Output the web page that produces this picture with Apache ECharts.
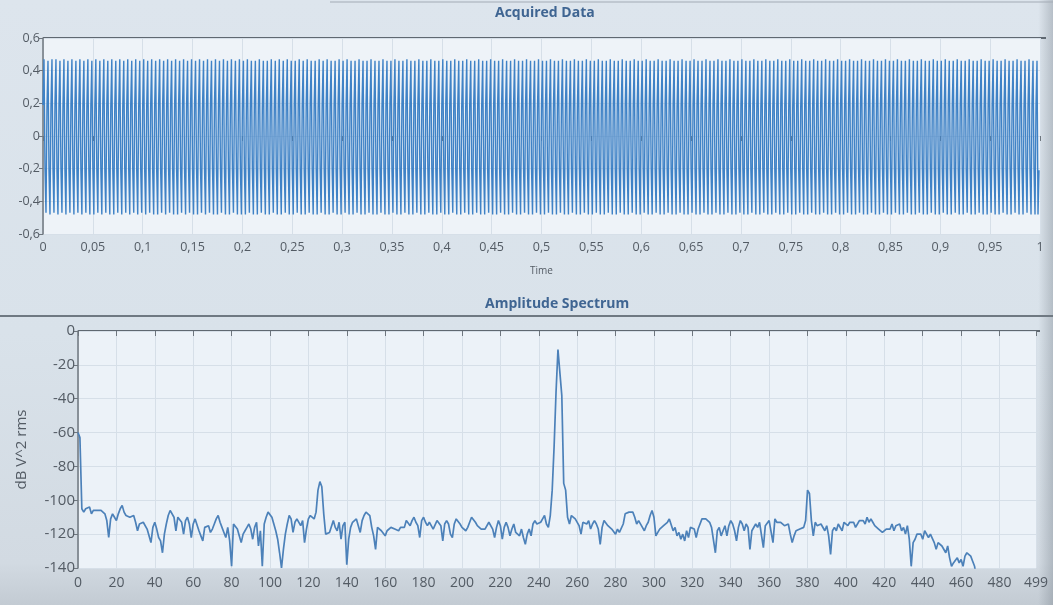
<!DOCTYPE html>
<html>
<head>
<meta charset="utf-8">
<title>Acquired Data / Amplitude Spectrum</title>
<script src="https://cdn.jsdelivr.net/npm/echarts@6/dist/echarts.min.js"></script>
<style>
  html, body { margin: 0; padding: 0; }
  #chart {
    width: 1053px; height: 605px;
    background:
      linear-gradient(to right, rgba(0,0,0,0) 98.6%, rgba(110,120,130,0.35) 100%),
      linear-gradient(to bottom, #dde5ed 0%, #d9e2ea 55%, #d2dae2 93%, #c3cbd3 100%);
  }
</style>
</head>
<body>
<div id="chart"></div>
<script>
// Sample clock of the acquisition (1 kS/s, 1000 samples)
const sampleRate = 1000;

// Acquired waveform, in hundredths of a volt
const acquiredSamples_cV = [
  19,47,-20,-47,18,46,-21,-48,19,47,-20,-47,20,47,-21,-48,19,46,-20,-47,
  18,47,-21,-48,19,46,-20,-47,19,47,-21,-48,18,46,-20,-47,20,47,-21,-48,
  19,46,-20,-47,18,47,-21,-48,19,46,-20,-48,19,47,-21,-47,18,46,-20,-48,
  20,47,-21,-47,19,46,-20,-48,18,47,-21,-48,19,46,-20,-47,19,47,-21,-48,
  18,46,-20,-47,19,47,-21,-48,20,46,-20,-47,19,47,-21,-48,18,46,-20,-47,
  19,47,-21,-48,18,46,-20,-47,19,47,-21,-48,19,46,-20,-48,20,47,-21,-47,
  19,46,-20,-48,18,47,-21,-47,19,46,-20,-48,18,47,-21,-48,19,46,-20,-47,
  20,47,-21,-48,19,46,-20,-47,18,47,-21,-48,19,46,-20,-48,19,47,-21,-47,
  18,46,-20,-48,19,47,-21,-47,19,46,-20,-48,20,47,-21,-48,18,46,-20,-47,
  19,47,-21,-48,18,46,-20,-48,19,47,-21,-47,19,46,-20,-48,18,47,-21,-48,
  19,46,-21,-48,18,47,-20,-47,19,46,-21,-48,20,46,-20,-48,19,47,-21,-47,
  18,46,-20,-48,19,46,-21,-48,19,47,-20,-47,18,46,-21,-48,19,47,-20,-48,
  20,46,-21,-47,19,47,-20,-48,18,46,-21,-48,19,46,-20,-47,19,47,-21,-48,
  18,46,-21,-48,19,47,-20,-47,20,46,-21,-48,19,46,-20,-48,18,47,-21,-47,
  19,46,-20,-48,18,47,-21,-48,19,46,-20,-47,19,46,-21,-48,20,47,-20,-48,
  19,46,-21,-47,18,47,-20,-48,19,46,-21,-48,18,46,-20,-47,19,47,-21,-48,
  20,46,-20,-48,19,46,-21,-47,18,47,-20,-48,19,46,-21,-48,19,46,-20,-47,
  18,47,-21,-48,19,46,-20,-48,20,46,-21,-47,19,47,-20,-48,18,46,-21,-48,
  19,46,-20,-47,19,47,-21,-48,18,46,-20,-48,19,46,-21,-47,20,47,-20,-48,
  19,46,-21,-48,18,46,-20,-47,19,47,-21,-48,19,46,-20,-48,18,46,-21,-47,
  19,47,-20,-48,20,46,-21,-48,19,46,-20,-47,18,47,-21,-48,19,46,-20,-48,
  19,46,-21,-47,18,47,-20,-48,19,46,-21,-48,20,46,-20,-47,19,47,-21,-48,
  18,46,-20,-48,19,46,-21,-47,19,47,-20,-48,18,46,-21,-48,19,46,-20,-47,
  20,47,-21,-48,19,46,-20,-48,18,46,-21,-47,19,47,-20,-48,19,46,-21,-48,
  18,46,-20,-47,19,47,-21,-48,20,46,-20,-48,19,46,-21,-47,18,47,-20,-48,
  19,46,-21,-48,19,46,-20,-47,18,47,-21,-48,19,46,-20,-48,20,46,-21,-47,
  19,47,-20,-48,18,46,-21,-48,19,46,-20,-47,19,47,-21,-48,18,46,-20,-48,
  19,46,-21,-47,20,47,-20,-48,19,46,-21,-48,18,46,-20,-47,19,47,-21,-48,
  19,46,-20,-48,18,46,-21,-47,19,47,-20,-48,20,46,-21,-48,19,46,-20,-47,
  18,47,-21,-48,19,46,-20,-48,19,46,-21,-47,18,47,-20,-48,19,46,-21,-48,
  20,46,-20,-47,19,47,-21,-48,18,46,-20,-48,19,46,-21,-47,19,47,-20,-48,
  18,46,-21,-48,19,46,-20,-47,20,47,-21,-48,19,46,-20,-48,18,46,-21,-47,
  19,47,-20,-48,19,46,-21,-48,18,46,-20,-47,19,47,-21,-48,20,46,-20,-48,
  19,46,-21,-47,18,47,-20,-48,19,46,-21,-48,19,46,-20,-47,18,47,-21,-48,
  19,46,-20,-48,20,46,-21,-47,19,47,-20,-48,18,46,-21,-48,19,46,-20,-47,
  19,47,-21,-48,18,46,-20,-48,19,46,-21,-47,20,47,-20,-48,19,46,-21,-48,
  18,46,-20,-47,19,47,-21,-48,19,46,-20,-48,18,46,-21,-47,19,47,-20,-48,
  20,46,-21,-48,19,46,-20,-47,18,47,-21,-48,19,46,-20,-48,19,46,-21,-47,
  18,47,-20,-48,19,46,-21,-48,20,46,-20,-47,19,47,-21,-48,18,46,-20,-48,
  19,46,-21,-47,19,47,-20,-48,18,46,-21,-48,19,46,-20,-47,20,47,-21,-48,
  19,46,-20,-48,18,46,-21,-47,19,47,-20,-48,19,46,-21,-48,18,46,-20,-47,
  19,47,-21,-48,20,46,-20,-48,19,46,-21,-47,18,47,-20,-48,19,46,-21,-48,
  19,46,-20,-47,18,47,-21,-48,19,46,-20,-48,20,46,-21,-47,19,47,-20,-48,
  18,46,-21,-48,19,46,-20,-47,19,47,-21,-48,18,46,-20,-48,19,46,-21,-47,
  20,47,-20,-48,19,46,-21,-48,18,46,-20,-47,19,47,-21,-48,19,46,-20,-48,
  18,46,-21,-47,19,47,-20,-48,20,46,-21,-48,19,46,-20,-47,18,47,-21,-48,
  19,46,-20,-48,19,46,-21,-47,18,47,-20,-48,19,46,-21,-48,20,46,-20,-47,
  19,47,-21,-48,18,46,-20,-48,19,46,-21,-47,19,47,-20,-48,18,46,-21,-48,
  19,46,-20,-47,20,47,-21,-48,19,46,-20,-48,18,46,-21,-47,19,47,-20,-48,
  19,46,-21,-48,18,46,-20,-47,19,47,-21,-48,20,46,-20,-48,19,46,-48,-21
];

// Amplitude spectrum, dB V^2 rms, one value per 1 Hz bin (0 .. 499 Hz)
const spectrumDb = [
  -60,-63,-105,-107,-105,-106,-104,-108,-106,-107,-106,-107,-106,-107,-108,-112,-122,-111,-108,-110,
  -112,-108,-105,-103,-107,-109,-108,-110,-111,-109,-113,-118,-114,-115,-113,-112,-117,-121,-125,-116,
  -113,-117,-122,-124,-131,-120,-114,-109,-106,-107,-110,-118,-110,-109,-113,-120,-112,-110,-114,-122,
  -114,-111,-112,-118,-121,-124,-116,-117,-115,-119,-117,-114,-111,-109,-113,-116,-119,-122,-116,-124,
  -139,-114,-113,-117,-121,-125,-120,-118,-116,-114,-117,-123,-116,-113,-127,-118,-139,-114,-110,-107,
  -106,-110,-114,-118,-123,-131,-140,-129,-120,-114,-109,-111,-119,-113,-111,-112,-115,-112,-125,-117,
  -111,-109,-108,-111,-107,-94,-89,-92,-108,-120,-120,-119,-118,-112,-116,-118,-113,-123,-115,-113,
  -138,-123,-116,-113,-112,-111,-112,-119,-112,-109,-107,-106,-109,-116,-121,-129,-116,-117,-118,-119,
  -121,-118,-117,-116,-115,-117,-116,-118,-116,-117,-116,-112,-111,-115,-112,-110,-113,-115,-122,-112,
  -110,-113,-115,-113,-115,-117,-116,-112,-111,-115,-124,-114,-112,-114,-120,-122,-114,-111,-110,-114,
  -116,-117,-118,-116,-113,-110,-109,-113,-115,-116,-117,-116,-117,-116,-113,-114,-117,-122,-116,-112,
  -115,-123,-116,-113,-116,-121,-117,-114,-119,-118,-121,-117,-122,-126,-120,-117,-121,-114,-112,-114,
  -113,-113,-111,-109,-114,-116,-109,-94,-68,-36,-11,-11,-38,-90,-94,-110,-114,-109,-108,-111,
  -112,-115,-120,-113,-112,-114,-112,-117,-114,-112,-114,-117,-126,-116,-112,-113,-115,-116,-117,-116,
  -120,-117,-119,-120,-114,-108,-107,-107,-108,-107,-110,-114,-112,-113,-116,-118,-115,-113,-109,-106,
  -110,-121,-119,-117,-116,-115,-115,-113,-111,-110,-118,-116,-121,-119,-123,-120,-124,-118,-122,-116,
  -115,-117,-122,-117,-114,-111,-110,-111,-112,-113,-116,-115,-131,-118,-116,-121,-118,-115,-121,-115,
  -112,-114,-118,-124,-116,-112,-114,-118,-114,-116,-129,-118,-117,-114,-116,-113,-114,-128,-115,-114,
  -112,-111,-125,-111,-113,-113,-113,-113,-115,-116,-114,-120,-125,-121,-118,-119,-117,-118,-116,-112,
  -94,-96,-112,-121,-113,-115,-116,-114,-115,-118,-115,-121,-132,-118,-116,-118,-114,-113,-118,-113,
  -112,-115,-113,-114,-113,-116,-114,-112,-113,-112,-114,-110,-113,-111,-113,-115,-116,-117,-118,-119,
  -118,-117,-116,-117,-114,-118,-115,-116,-114,-118,-116,-120,-115,-123,-139,-125,-123,-120,-121,-120,
  -123,-118,-117,-122,-120,-121,-125,-129,-125,-124,-127,-126,-131,-127,-134,-139,-137,-136,-134,-137,
  -135,-139,-133,-131,-131,-133,-136,-139,-146,-149,-152,-150,-155,-153,-158,-156,-160,-157,-161,-159,
  -163,-160,-162,-158,-164,-161,-165,-162,-163,-166,-164,-167,-165,-168,-166,-169,-167,-170,-168,-171
];

// Axis ranges and tick steps
const timeRange = [0, 1];
const timeTickStep = 0.05;
const voltRange = [-0.6, 0.6];
const voltTickStep = 0.2;
const freqRange = [0, 499];
const freqTickStep = 20;
const dbRange = [-140, 0];
const dbTickStep = 20;

const waveform = acquiredSamples_cV.map((v, i) => [i / sampleRate, v / 100]);
const spectrum = spectrumDb.map((v, i) => [i, v]);

const FONT = '"Open Sans", "Noto Sans", sans-serif';
const LABEL = '#535b64';
const TITLE = '#3f6592';
const AXIS = '#6e767e';
const GRIDLINE = '#d6dfe8';

const commaDecimal = (v, digits) => {
  const s = String(+(+v).toFixed(digits));
  return s.replace('.', ',');
};

const chart = echarts.init(document.getElementById('chart'), null, { renderer: 'canvas' });

chart.setOption({
  animation: false,
  backgroundColor: 'transparent',
  title: [
    {
      text: 'Acquired Data', left: 490, top: 1,
      textStyle: { fontFamily: FONT, fontSize: 14, fontWeight: 'bold', color: TITLE }
    },
    {
      text: 'Amplitude Spectrum', left: 480, top: 292,
      textStyle: { fontFamily: FONT, fontSize: 14, fontWeight: 'bold', color: TITLE }
    }
  ],
  graphic: [
    { type: 'line', shape: { x1: 330, y1: 2, x2: 1053, y2: 2 }, style: { stroke: '#a3acb5', lineWidth: 1.2 }, silent: true },
    { type: 'line', shape: { x1: 0, y1: 316, x2: 1053, y2: 316 }, style: { stroke: '#6f7982', lineWidth: 2 }, silent: true },
    { type: 'line', shape: { x1: 43, y1: 38, x2: 1046, y2: 38 }, style: { stroke: '#5f6871', lineWidth: 2 }, silent: true },
    { type: 'line', shape: { x1: 78, y1: 331, x2: 1040, y2: 331 }, style: { stroke: '#5f6871', lineWidth: 2 }, silent: true }
  ],
  grid: [
    { left: 43, top: 38, width: 997, height: 196, show: true, backgroundColor: '#eef3f8', borderWidth: 0 },
    { left: 78, top: 331, width: 958, height: 237, show: true, backgroundColor: '#ecf2f8', borderWidth: 0 }
  ],
  xAxis: [
    {
      gridIndex: 0, type: 'value', min: timeRange[0], max: timeRange[1], interval: timeTickStep,
      name: 'Time', nameLocation: 'middle', nameGap: 32,
      nameTextStyle: { fontFamily: FONT, fontSize: 10, color: LABEL },
      axisLine: { show: false },
      axisTick: { show: true, length: 5, inside: false, lineStyle: { color: AXIS } },
      axisLabel: { fontFamily: FONT, fontSize: 12.5, color: LABEL, margin: 7,
                   formatter: v => commaDecimal(v, 2) },
      splitLine: { show: true, lineStyle: { color: GRIDLINE, width: 1 } }
    },
    {
      gridIndex: 1, type: 'value', min: freqRange[0], max: freqRange[1], interval: freqTickStep,
      axisLine: { show: false },
      axisTick: { show: true, length: 5, lineStyle: { color: AXIS } },
      axisLabel: { fontFamily: FONT, fontSize: 14, color: LABEL, margin: 8, showMaxLabel: true,
                   formatter: v => String(Math.round(v)) },
      splitLine: { show: true, lineStyle: { color: GRIDLINE, width: 1 } }
    }
  ],
  yAxis: [
    {
      gridIndex: 0, type: 'value', min: voltRange[0], max: voltRange[1], interval: voltTickStep,
      axisLine: { show: true, lineStyle: { color: AXIS, width: 1.5 } },
      axisTick: { show: true, length: 4, lineStyle: { color: AXIS } },
      axisLabel: { fontFamily: FONT, fontSize: 12.5, color: LABEL, margin: 3,
                   formatter: v => commaDecimal(v, 1) },
      splitLine: { show: true, lineStyle: { color: GRIDLINE, width: 1 } }
    },
    {
      gridIndex: 1, type: 'value', min: dbRange[0], max: dbRange[1], interval: dbTickStep,
      name: 'dB V^2 rms', nameLocation: 'middle', nameGap: 49, nameRotate: 90,
      nameTextStyle: { fontFamily: FONT, fontSize: 15, color: LABEL },
      axisLine: { show: true, lineStyle: { color: AXIS, width: 1.5 } },
      axisTick: { show: true, length: 4, lineStyle: { color: AXIS } },
      axisLabel: { fontFamily: FONT, fontSize: 15, color: LABEL, margin: 3 },
      splitLine: { show: true, lineStyle: { color: GRIDLINE, width: 1 } }
    }
  ],
  series: [
    {
      name: 'Acquired Data', type: 'line', xAxisIndex: 0, yAxisIndex: 0,
      data: waveform, showSymbol: false, symbol: 'none', sampling: null,
      lineStyle: { color: '#3f82c6', width: 1.4 }, clip: true
    },
    {
      name: 'Amplitude Spectrum', type: 'line', xAxisIndex: 1, yAxisIndex: 1,
      data: spectrum, showSymbol: false, symbol: 'none',
      lineStyle: { color: '#4c81b9', width: 1.7 }, clip: true
    }
  ]
});
</script>
</body>
</html>
